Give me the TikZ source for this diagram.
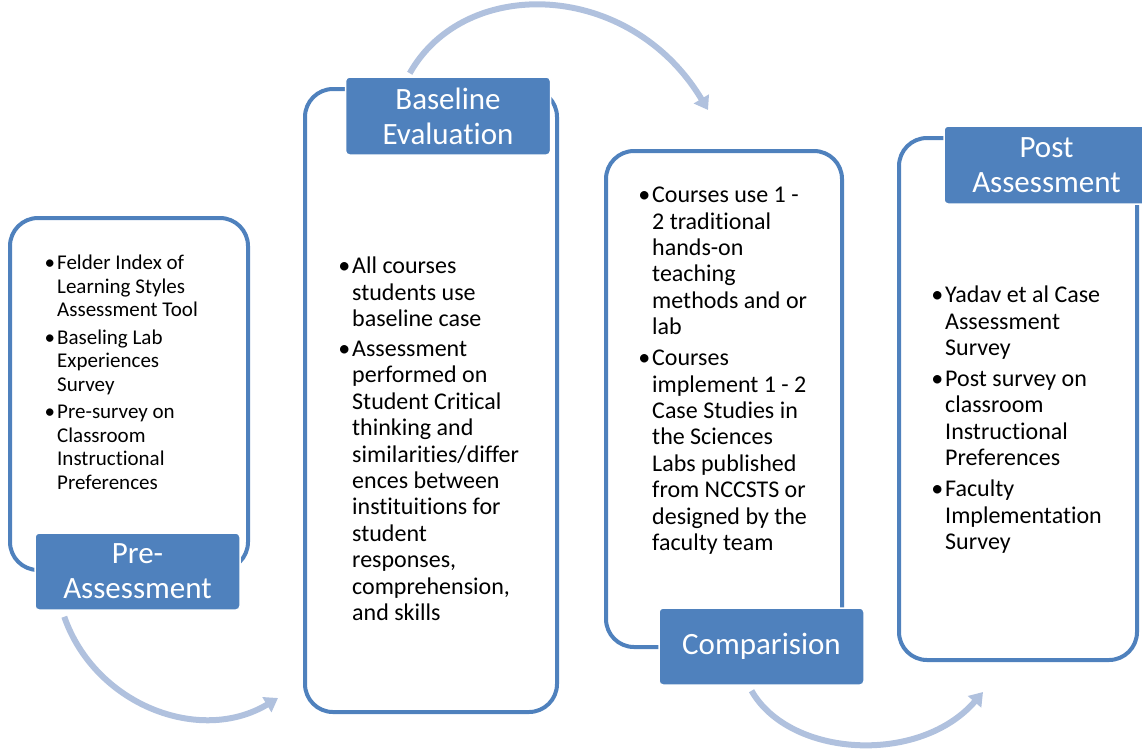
\documentclass[tikz,border=0pt]{standalone}
\usepackage{fontspec}
\setmainfont{Carlito}[Ligatures={NoCommon,NoContextual}]
\usepackage{xcolor}
\usepackage{tikz}
\usetikzlibrary{arrows.meta, calc}
\definecolor{PhaseBlue}{RGB}{79,129,189}
\definecolor{PhaseArrow}{RGB}{176,193,222}
\newcommand{\blt}{\llap{\textbullet\hspace{2pt}}}

\begin{document}
\begin{tikzpicture}[x=1pt, y=-1pt,
    phasebox/.style={draw=PhaseBlue, line width=4pt, rounded corners=28pt, inner sep=0pt},
    phaselabel/.style={fill=PhaseBlue, draw=white, line width=1.5pt, rounded corners=4pt,
      text=white, align=center, inner sep=0pt, minimum width=205pt, minimum height=77pt,
      font=\fontsize{31}{35}\selectfont},
    itemtext/.style={anchor=north west, align=left, inner sep=0pt, font=\fontsize{24}{26.4}\selectfont},
    flowarrow/.style={draw=PhaseArrow, line width=6pt, -{Triangle[length=13pt,width=17pt]}}]
        \useasboundingbox (0,0) rectangle (1142,748);
        % outer frames
        \node[phasebox, minimum width=238pt, minimum height=352pt] (preBox) at (129,394) {};
        \node[phasebox, minimum width=252pt, minimum height=623pt] (baseBox) at (431,400.5) {};
        \node[phasebox, minimum width=236pt, minimum height=496pt] (compBox) at (724,399) {};
        \node[phasebox, minimum width=238pt, minimum height=522pt] (postBox) at (1018,399) {};
        % phase labels
        \node[phaselabel] (preLabel) at (137.5,571.5) {Pre-\\Assessment};
        \node[phaselabel, minimum height=78pt] (baseLabel) at (448,116) {Baseline\\Evaluation};
        \node[phaselabel] (compLabel) at (761.5,646.5) {Comparision};
        \node[phaselabel, minimum height=78pt] (postLabel) at (1046.5,165) {Post\\Assessment};
        % bullet texts
        \node[itemtext, font=\fontsize{21}{23.5}\selectfont] (preText) at (57,255)
          {\blt Felder Index of\\Learning Styles\\Assessment Tool\\[4pt]
           \blt Baseling Lab\\Experiences\\Survey\\[4pt]
           \blt Pre-survey on\\Classroom\\Instructional\\Preferences};
        \node[itemtext] (baseText) at (352,257)
          {\blt All courses\\students use\\baseline case\\[3.5pt]
           \blt Assessment\\performed on\\Student Critical\\thinking and\\similarities/differ\\ences between\\instituitions for\\student\\responses,\\comprehension,\\and skills};
        \node[itemtext] (compText) at (652,187)
          {\blt Courses use 1 -\\2 traditional\\hands-on\\teaching\\methods and or\\lab\\[4.5pt]
           \blt Courses\\implement 1 - 2\\Case Studies in\\the Sciences\\Labs published\\from NCCSTS or\\designed by the\\faculty team};
        \node[itemtext] (postText) at (945,286)
          {\blt Yadav et al Case\\Assessment\\Survey\\[4.5pt]
           \blt Post survey on\\classroom\\Instructional\\Preferences\\[4.5pt]
           \blt Faculty\\Implementation\\Survey};
        % curved arrows between phases
        \coordinate (baseIn) at (278,698);
        \coordinate (compIn) at (708,110);
        \coordinate (postIn) at (983,692);
        \draw[flowarrow] ([xshift=30pt,yshift=-6pt]preLabel.south west) .. controls (95,705) and (200,745) .. (baseIn);
        \draw[flowarrow] ([xshift=65pt,yshift=3pt]baseLabel.north west) .. controls (465,-25) and (630,-20) .. (compIn);
        \draw[flowarrow] ([xshift=-10pt,yshift=-5pt]compLabel.south) .. controls (790,758) and (920,765) .. (postIn);
      \end{tikzpicture}
\end{document}
